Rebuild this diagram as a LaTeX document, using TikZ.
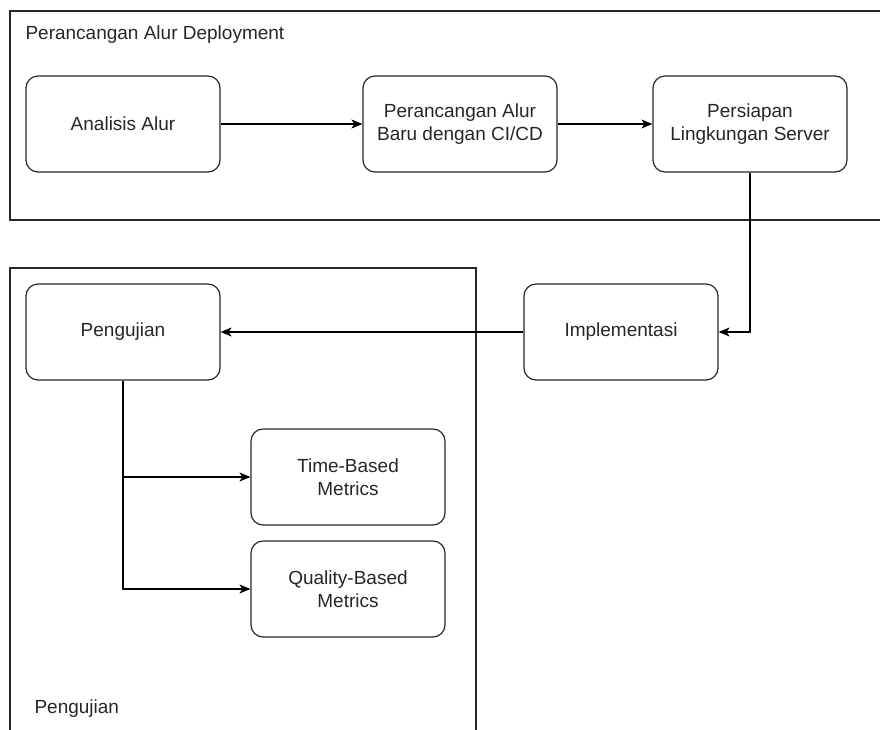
\documentclass[tikz,border=0pt]{standalone}
\usepackage{fontspec}
\setmainfont{Liberation Sans}
\usetikzlibrary{arrows.meta}
\begin{document}
\begin{tikzpicture}[x=1pt,y=-1pt,
  every node/.style={font=\fontsize{19}{23}\selectfont, text=black!85},
  box/.style={draw=black!85, line width=1.2pt, rounded corners=12pt, minimum width=194pt, minimum height=96pt, align=center, inner sep=0pt},
  frame/.style={draw=black!85, line width=1.2pt},
  conn/.style={draw=black, line width=1.2pt, -{Stealth[length=11pt,width=9pt,inset=3pt]}},
  plain/.style={draw=black, line width=1.2pt}]
\useasboundingbox (0,0) rectangle (880,729);
\clip (0,0) rectangle (880,729);
\draw[frame] (10,11) rectangle (900,220);
\draw[frame] (10,268) rectangle (476,760);
\node[anchor=west] (t1) at (22,35) {Perancangan Alur Deployment};
\node[anchor=west] (t2) at (31,709) {Pengujian};
\node[box] (a) at (123,124) {Analisis Alur};
\node[box] (b) at (460,124) {Perancangan Alur\\Baru dengan CI/CD};
\node[box] (c) at (750,124) {Persiapan\\Lingkungan Server};
\node[box] (d) at (621,332) {Implementasi};
\node[box] (e) at (123,332) {Pengujian};
\node[box] (f) at (348,477) {Time-Based\\Metrics};
\node[box] (g) at (348,589) {Quality-Based\\Metrics};
\draw[conn] (a) -- (b);
\draw[conn] (b) -- (c);
\draw[conn] (c.south) |- (d.east);
\draw[conn] (d) -- (e);
\draw[conn] (e.south) |- (f.west);
\draw[conn] (e.south) |- (g.west);
\end{tikzpicture}
\end{document}
